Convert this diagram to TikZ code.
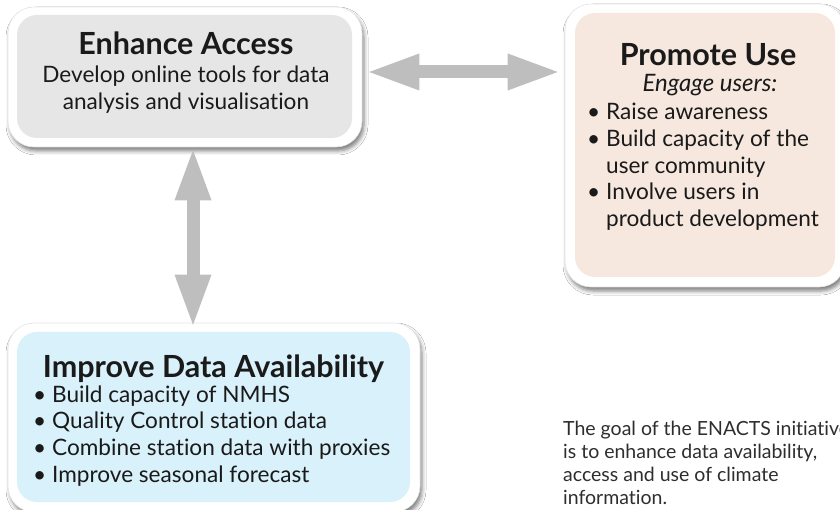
\documentclass[tikz,border=0pt]{standalone}
\usepackage{fontspec}
\setmainfont{Lato}[Ligatures=CommonOff]
\usetikzlibrary{arrows.meta,shadows.blur}

\definecolor{accessfill}{HTML}{E6E6E6}
\definecolor{usefill}{HTML}{F6E8DF}
\definecolor{availfill}{HTML}{D9F1FA}
\definecolor{arrowgrey}{HTML}{BEBEBE}
\definecolor{textdark}{HTML}{1A1A1A}
\definecolor{goaltext}{HTML}{2E2E2E}

\newcommand{\bul}{\llap{\textbullet\hspace{6pt}}}

\tikzset{bigtip/.tip={Triangle[length=50pt, width=37pt, line width=0pt]}}

\begin{document}
\begin{tikzpicture}[x=1pt,y=-1pt,
  frame/.style={fill=white, draw=black!10, line width=0.6pt, rounded corners=26pt,
    inner sep=0pt, blur shadow={shadow xshift=2pt, shadow yshift=-4pt,
    shadow blur radius=4pt, shadow opacity=50}},
  panel/.style={rounded corners=20pt, inner sep=0pt},
  txt/.style={inner sep=0pt, text=textdark},
  title/.style={txt, anchor=base, font=\fontsize{30.5}{36}\selectfont\bfseries},
  body/.style={txt, font=\fontsize{22.6}{27}\selectfont},
  goal/.style={inner sep=0pt, text=goaltext, anchor=base west, font=\fontsize{19.5}{23}\selectfont},
  conn/.style={draw=arrowgrey, line width=13pt, bigtip-bigtip}
]
\useasboundingbox[fill=white] (0,0) rectangle (840,510);

% white frames carrying the shadows
\node[frame, minimum width=354pt, minimum height=140pt] (accframe) at (185,77) {};
\node[frame, minimum width=280pt, minimum height=283pt] (useframe) at (705,145.5) {};
\node[frame, minimum width=412pt, minimum height=189pt] (availframe) at (214,417.5) {};

% two-way arrows between the frames
\draw[conn, shorten <=7pt, shorten >=7pt]
  ([yshift=5pt]accframe.east) -- ([yshift=5pt]accframe.east -| useframe.west);
\draw[conn, shorten <=3pt, shorten >=-2pt]
  ([xshift=8pt]accframe.south) -- ([xshift=8pt]accframe.south |- availframe.north);

% coloured panels
\node[panel, fill=accessfill, minimum width=335pt, minimum height=123pt] (accpanel) at (184.5,76.5) {};
\node[panel, fill=usefill, minimum width=260pt, minimum height=264pt] (usepanel) at (705,145) {};
\node[panel, fill=availfill, minimum width=393pt, minimum height=170pt] (availpanel) at (213.5,417) {};

% Enhance Access
\node[title] (acctitle) at (186,55) {Enhance Access};
\node[body, anchor=base] (acc1) at (186,83) {Develop online tools for data};
\node[body, anchor=base] (acc2) at (186,110) {analysis and visualisation};

% Promote Use
\node[title] (usetitle) at (708,66) {Promote Use};
\node[body, anchor=base, font=\fontsize{24}{28}\selectfont\itshape] (use0) at (710,92) {Engage users:};
\node[body, anchor=base west] (use1) at (606,120) {\bul Raise awareness};
\node[body, anchor=base west] (use2) at (606,147) {\bul Build capacity of the};
\node[body, anchor=base west] (use3) at (606,174) {user community};
\node[body, anchor=base west] (use4) at (606,200) {\bul Involve users in};
\node[body, anchor=base west] (use5) at (606,227) {product development};

% Improve Data Availability
\node[title] (availtitle) at (213.5,377) {Improve Data Availability};
\node[body, anchor=base west] (av1) at (52,402) {\bul Build capacity of NMHS};
\node[body, anchor=base west] (av2) at (52,428) {\bul Quality Control station data};
\node[body, anchor=base west] (av3) at (52,455) {\bul Combine station data with proxies};
\node[body, anchor=base west] (av4) at (52,482) {\bul Improve seasonal forecast};

% goal statement
\node[goal] (goal1) at (563,435) {The goal of the ENACTS initiative};
\node[goal] (goal2) at (563,458) {is to enhance data availability,};
\node[goal] (goal3) at (563,481) {access and use of climate};
\node[goal] (goal4) at (563,504) {information.};
\end{tikzpicture}
\end{document}
